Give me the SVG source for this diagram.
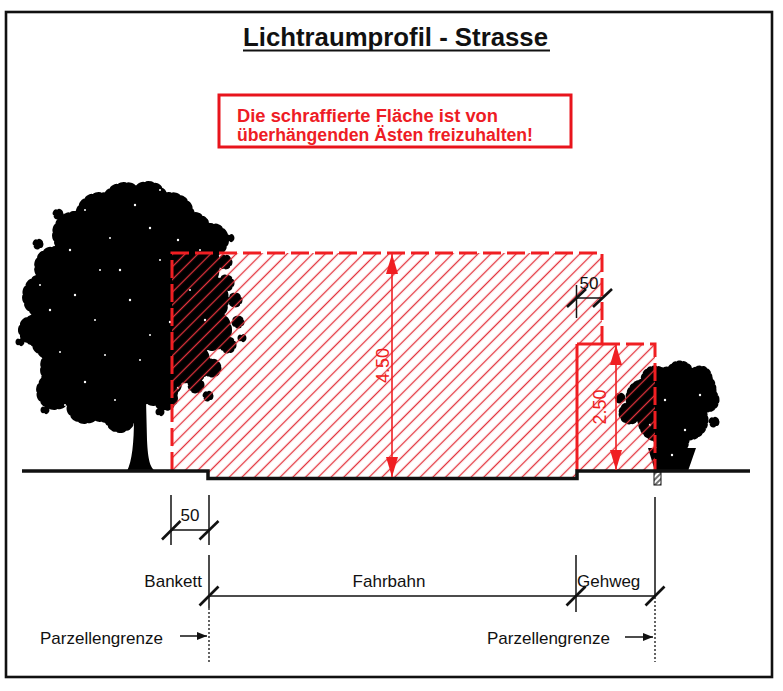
<svg xmlns="http://www.w3.org/2000/svg" width="783" height="691" viewBox="0 0 783 691">
<defs>
<style>
.txt{font-family:"Liberation Sans",Arial,sans-serif;fill:#111;font-size:17px}
.red{fill:#ee1c25;font-family:"Liberation Sans",Arial,sans-serif;font-weight:bold}
.dim{stroke:#111;stroke-width:1.5;fill:none}
.tick{stroke:#111;stroke-width:2.6;stroke-linecap:butt}
.rdash{stroke:#f01e22;stroke-width:3;fill:none;stroke-dasharray:18 6}
.rsolid{stroke:#f01e22;stroke-width:3;fill:none}
.leaf{stroke:#000;stroke-width:10;stroke-dasharray:2.5 5;stroke-linecap:round}
.leafs{stroke:#000;stroke-width:5;stroke-dasharray:1.5 3.5;stroke-linecap:round}
.spk{fill:#fff}
</style>
<pattern id="hatch" patternUnits="userSpaceOnUse" width="9" height="9" patternTransform="rotate(45)">
<line x1="4.5" y1="0" x2="4.5" y2="9" stroke="#e3323c" stroke-width="1.3"/>
</pattern>
<pattern id="posth" patternUnits="userSpaceOnUse" width="4" height="4" patternTransform="rotate(45)">
<line x1="2" y1="0" x2="2" y2="4" stroke="#111" stroke-width="1.2"/>
</pattern>
<marker id="redArr" viewBox="0 0 20 12" refX="20" refY="6" markerWidth="20" markerHeight="12" markerUnits="userSpaceOnUse" orient="auto-start-reverse">
<path d="M0,0 L20,6 L0,12 Z" fill="#f01e22"/>
</marker>
<marker id="blkArr" viewBox="0 0 10 8" refX="10" refY="4" markerWidth="10" markerHeight="8" markerUnits="userSpaceOnUse" orient="auto">
<path d="M0,0 L10,4 L0,8 Z" fill="#111"/>
</marker>
</defs>
<rect width="783" height="691" fill="#fff"/>
<rect id="frame" x="6" y="12" width="766" height="665" fill="none" stroke="#111" stroke-width="2.6"/>

<g id="title">
<text x="243" y="46" font-family="'Liberation Sans',Arial,sans-serif" font-weight="bold" font-size="25" fill="#111" textLength="305" lengthAdjust="spacingAndGlyphs">Lichtraumprofil - Strasse</text>
<line x1="243" y1="50.5" x2="550" y2="50.5" stroke="#111" stroke-width="2"/>
</g>

<g id="note">
<rect x="219" y="95" width="352" height="52" fill="#fff" stroke="#e8141c" stroke-width="3"/>
<text class="red" x="237" y="122" font-size="17.5" textLength="261" lengthAdjust="spacingAndGlyphs">Die schraffierte Fläche ist von</text>
<text class="red" x="237" y="141" font-size="17.5" textLength="296" lengthAdjust="spacingAndGlyphs">überhängenden Ästen freizuhalten!</text>
</g>

<g id="tree" fill="#000">
<path d="M127,471 C132,462 134,442 134,418 L132,398 L116,380 L122,376 L137,392 L146,376 L153,379 L146,400 L147,440 C148,460 150,467 155,471 Z"/>
<g class="leaf">
<circle cx="148" cy="202" r="16"/><circle cx="125" cy="207" r="20"/><circle cx="170" cy="217" r="20"/>
<circle cx="100" cy="217" r="20"/><circle cx="190" cy="234" r="18"/><circle cx="75" cy="234" r="18"/>
<circle cx="212" cy="240" r="12"/><circle cx="135" cy="245" r="40"/><circle cx="90" cy="265" r="35"/>
<circle cx="180" cy="265" r="35"/><circle cx="55" cy="267" r="16"/><circle cx="45" cy="296" r="18"/>
<circle cx="100" cy="300" r="45"/><circle cx="160" cy="300" r="45"/><circle cx="33" cy="330" r="10"/>
<circle cx="60" cy="330" r="28"/><circle cx="200" cy="300" r="24"/><circle cx="211" cy="330" r="16"/>
<circle cx="120" cy="340" r="45"/><circle cx="170" cy="345" r="33"/><circle cx="75" cy="368" r="30"/>
<circle cx="108" cy="385" r="33"/><circle cx="155" cy="378" r="23"/><circle cx="190" cy="363" r="16"/>
<circle cx="55" cy="391" r="14"/><circle cx="85" cy="405" r="14"/><circle cx="120" cy="417" r="11"/>
<circle cx="165" cy="398" r="8"/>
</g>
<g class="leafs">
<circle cx="226" cy="283" r="6"/><circle cx="235" cy="300" r="5"/><circle cx="238" cy="322" r="4"/>
<circle cx="228" cy="345" r="6"/><circle cx="212" cy="368" r="7"/><circle cx="196" cy="385" r="6"/>
<circle cx="225" cy="262" r="5"/><circle cx="208" cy="396" r="3"/><circle cx="242" cy="338" r="2"/>
<circle cx="20" cy="342" r="2"/><circle cx="38" cy="244" r="3"/><circle cx="58" cy="214" r="3"/>
<circle cx="45" cy="410" r="2"/><circle cx="160" cy="412" r="2"/><circle cx="230" cy="238" r="2"/>
</g>
<g class="spk">
<circle cx="70" cy="250" r="1.2"/><circle cx="110" cy="238" r="1"/><circle cx="150" cy="228" r="1.2"/>
<circle cx="95" cy="320" r="1"/><circle cx="130" cy="300" r="1.2"/><circle cx="60" cy="352" r="1"/>
<circle cx="170" cy="322" r="1.2"/><circle cx="140" cy="360" r="1"/><circle cx="85" cy="382" r="1.2"/>
<circle cx="190" cy="290" r="1"/><circle cx="120" cy="270" r="1.2"/><circle cx="160" cy="260" r="1"/>
<circle cx="50" cy="310" r="1.2"/><circle cx="105" cy="355" r="1"/><circle cx="178" cy="388" r="1.2"/>
<circle cx="85" cy="210" r="1"/><circle cx="135" cy="205" r="1.2"/><circle cx="200" cy="250" r="1"/>
<circle cx="40" cy="285" r="1"/><circle cx="75" cy="295" r="1.2"/><circle cx="115" cy="400" r="1"/>
<circle cx="150" cy="335" r="1"/><circle cx="205" cy="320" r="1.2"/><circle cx="65" cy="405" r="1"/>
<circle cx="160" cy="190" r="1"/><circle cx="100" cy="270" r="1"/><circle cx="178" cy="240" r="1.2"/>
</g>
</g>

<g id="bush" fill="#000">
<path d="M655,471 L688,471 L696,448 L648,448 Z"/>
<g class="leafs">
<circle cx="668" cy="392" r="23"/><circle cx="695" cy="390" r="19"/><circle cx="645" cy="398" r="17"/>
<circle cx="660" cy="420" r="20"/><circle cx="688" cy="420" r="18"/><circle cx="630" cy="413" r="9"/>
<circle cx="707" cy="400" r="10"/><circle cx="655" cy="380" r="12"/><circle cx="680" cy="375" r="12"/>
<circle cx="700" cy="378" r="10"/><circle cx="672" cy="440" r="15"/><circle cx="620" cy="398" r="3"/>
<circle cx="714" cy="422" r="3"/>
</g>
<g class="spk">
<circle cx="665" cy="400" r="1.2"/><circle cx="685" cy="430" r="1.2"/><circle cx="650" cy="425" r="1.2"/>
<circle cx="700" cy="395" r="1.2"/><circle cx="672" cy="455" r="1.2"/>
</g>
</g>

<g id="clearance">
<polygon points="172,253 602,253 602,344 655,344 655,470 577,470 577,478 208,478 208,470 172,470" fill="url(#hatch)"/>
<polyline class="rdash" points="172,470 172,253 602,253 602,344"/>
<line class="rsolid" x1="577" y1="344" x2="602" y2="344"/>
<polyline class="rdash" points="602,344 655,344 655,470"/>
<line class="rsolid" x1="577" y1="344" x2="577" y2="470"/>
</g>

<g id="ground">
<polyline points="22,471 208,471 208,478.5 577,478.5 577,471 750,471" fill="none" stroke="#111" stroke-width="3.5"/>
<rect x="654" y="472" width="7" height="13" fill="url(#posth)" stroke="#111" stroke-width="1"/>
</g>

<g id="connectors">
<line x1="392" y1="254" x2="392" y2="477" stroke="#f01e22" stroke-width="1.6" marker-start="url(#redArr)" marker-end="url(#redArr)"/>
<line x1="616" y1="345" x2="616" y2="470" stroke="#f01e22" stroke-width="1.6" marker-start="url(#redArr)" marker-end="url(#redArr)"/>
<line class="dim" x1="576.5" y1="285" x2="576.5" y2="318"/>
<line class="dim" x1="576" y1="298" x2="602" y2="298"/>
<line class="tick" x1="567" y1="307" x2="586" y2="289"/>
<line class="tick" x1="593" y1="307" x2="612" y2="289"/>
<line class="dim" x1="171" y1="495" x2="171" y2="545"/>
<line class="dim" x1="209" y1="495" x2="209" y2="545"/>
<line class="dim" x1="171" y1="530" x2="209" y2="530"/>
<line class="tick" x1="162" y1="539.5" x2="180.5" y2="521"/>
<line class="tick" x1="199.5" y1="539.5" x2="218.5" y2="521"/>
<line class="dim" x1="209" y1="555" x2="209" y2="608"/>
<line class="dim" x1="576" y1="555" x2="576" y2="612"/>
<line class="dim" x1="655" y1="497" x2="655" y2="597"/>
<line class="dim" x1="209" y1="596" x2="655" y2="596"/>
<line class="tick" x1="199.5" y1="605.5" x2="218.5" y2="586.5"/>
<line class="tick" x1="566.5" y1="605.5" x2="585.5" y2="586.5"/>
<line class="tick" x1="645.5" y1="605.5" x2="664.5" y2="586.5"/>
<line x1="209" y1="608" x2="209" y2="662" stroke="#111" stroke-width="1.3" stroke-dasharray="2 2"/>
<line x1="655" y1="597" x2="655" y2="662" stroke="#111" stroke-width="1.3" stroke-dasharray="2 2"/>
<line x1="180" y1="636" x2="207" y2="636" stroke="#111" stroke-width="1.5" marker-end="url(#blkArr)"/>
<line x1="625" y1="637" x2="653" y2="637" stroke="#111" stroke-width="1.5" marker-end="url(#blkArr)"/>
</g>

<g id="labels">
<text x="383" y="365.5" font-family="'Liberation Sans',Arial,sans-serif" font-size="18" fill="#f01e22" text-anchor="middle" transform="rotate(-90 383 365.5)" dy="6">4.50</text>
<text x="600" y="407" font-family="'Liberation Sans',Arial,sans-serif" font-size="18" fill="#f01e22" text-anchor="middle" transform="rotate(-90 600 407)" dy="6">2.50</text>
<text class="txt" x="589" y="289" font-size="16" text-anchor="middle">50</text>
<text class="txt" x="190" y="521" font-size="16" text-anchor="middle">50</text>
<text class="txt" x="202" y="587" text-anchor="end">Bankett</text>
<text class="txt" x="389" y="587" text-anchor="middle">Fahrbahn</text>
<text class="txt" x="577" y="587">Gehweg</text>
<text class="txt" x="40" y="644">Parzellengrenze</text>
<text class="txt" x="487" y="644">Parzellengrenze</text>
</g>
</svg>
